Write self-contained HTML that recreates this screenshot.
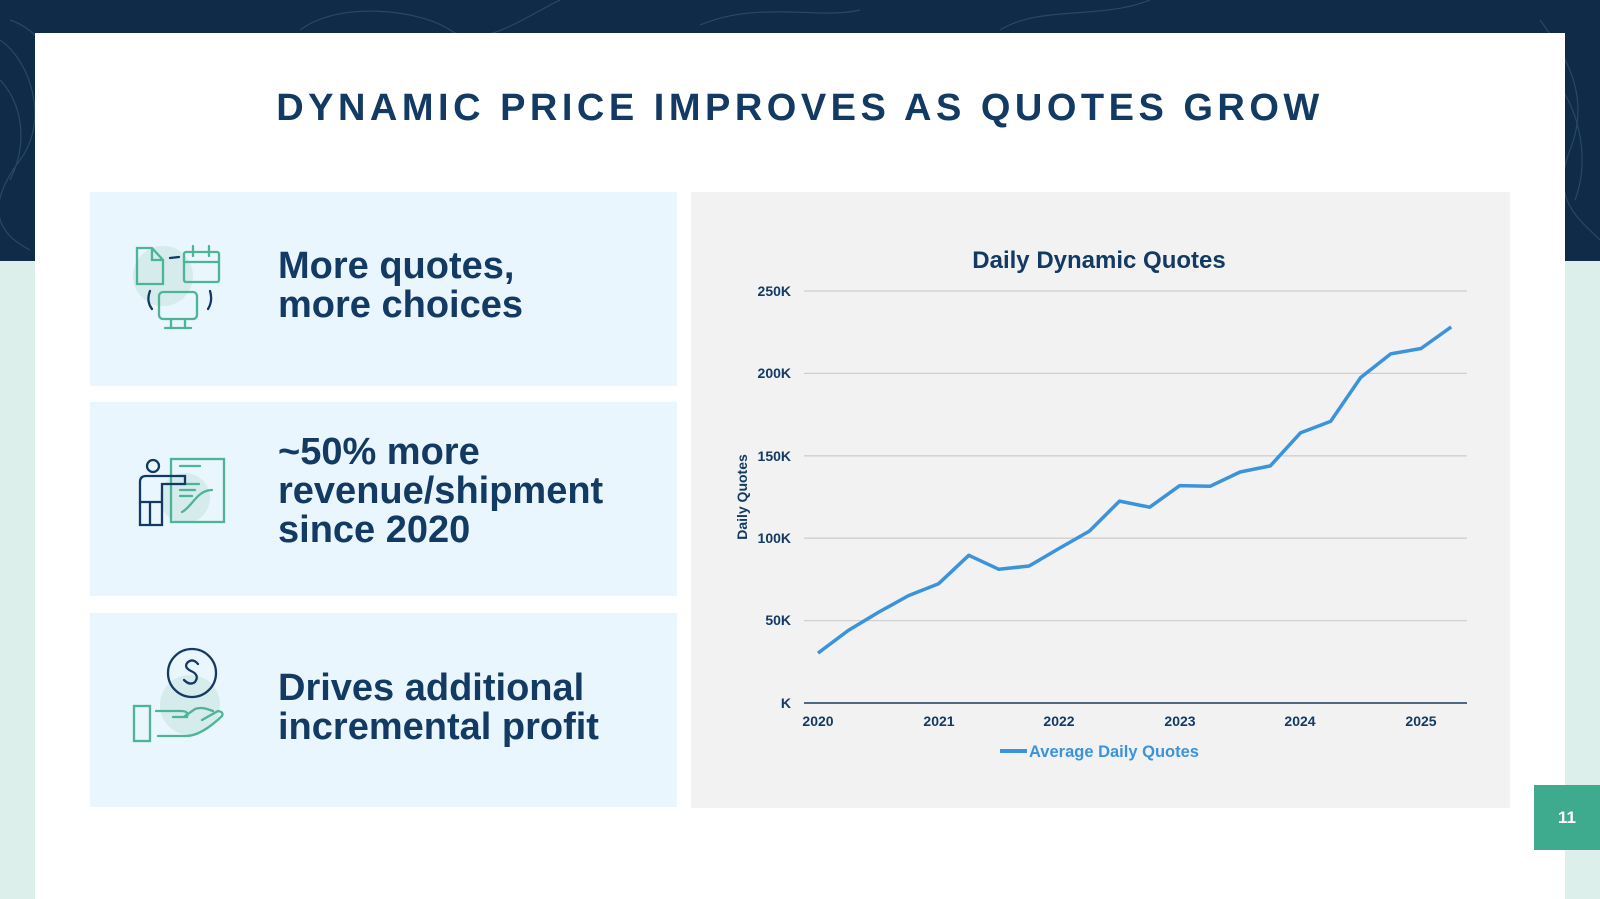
<!DOCTYPE html>
<html><head><meta charset="utf-8"><style>
body{margin:0;width:1600px;height:899px;overflow:hidden;font-family:"Liberation Sans",sans-serif;background:#dcefea}
.top{position:absolute;left:0;top:0;width:1600px;height:261px;background:#0f2b48}
.card{position:absolute;left:35px;top:33px;width:1530px;height:866px;background:#fff}
.title{position:absolute;left:0;width:1600px;top:87px;text-align:center;font-size:38px;font-weight:bold;letter-spacing:4.5px;color:#133a63}
.box{position:absolute;left:90px;width:587px;height:194px;background:#eaf6fd}
.txt{position:absolute;left:278px;font-size:38px;font-weight:bold;color:#133a63;line-height:39px}
.pg{position:absolute;left:1534px;top:785px;width:66px;height:65px;background:#3eab8e;color:#fff;font-weight:bold;font-size:17px;text-align:center;line-height:65px}
</style></head><body>
<div class="top">
<svg width="1600" height="261" style="position:absolute;left:0;top:0" fill="none" stroke="#2a4766" stroke-width="1.2">
<path d="M0 40 C30 60 50 120 20 160 S-10 230 30 250"/><path d="M0 80 C20 100 30 140 10 180"/><path d="M10 20 C40 30 60 60 40 90"/>
<path d="M300 30 C340 0 420 10 450 30 S520 20 560 0"/><path d="M700 25 C760 0 820 20 860 10"/><path d="M1000 30 C1040 5 1100 20 1150 0"/>
<path d="M1540 20 C1570 60 1590 100 1570 150 S1580 220 1600 240"/><path d="M1555 80 C1580 110 1590 160 1575 200"/>
</svg></div>
<div class="card"></div>
<div class="title">DYNAMIC PRICE IMPROVES AS QUOTES GROW</div>

<div class="box" style="top:192px"></div>
<div class="box" style="top:402px"></div>
<div class="box" style="top:613px"></div>

<svg width="700" height="899" style="position:absolute;left:0;top:0" fill="none" stroke-width="2.3" stroke-linecap="round">
<circle cx="163" cy="276" r="30" fill="#d5ebec" stroke="none"/>
<path d="M137 248 h15 l11 12 v24 h-26z M152 248 v12 h11" stroke="#4db497"/>
<path d="M170 258 l9 -1" stroke="#133a63"/>
<rect x="184" y="252" width="35" height="30" rx="2" stroke="#4db497"/><path d="M184 262 h35 M193 246 v10 M209 246 v10" stroke="#4db497"/>
<rect x="159" y="292" width="38" height="27" rx="4" stroke="#4db497"/><path d="M171 320 v7 M185 320 v7 M165 328 h26" stroke="#4db497"/>
<path d="M150 291 q-4 10 2 18 M210 291 q3 10 -2 18" stroke="#133a63"/>

<circle cx="185" cy="498" r="25" fill="#d5ebec" stroke="none"/>
<rect x="171" y="459" width="53" height="63" stroke="#4db497"/>
<path d="M180 466 h20 M180 484 h19 M180 490 h15 M180 496 h12 M182 512 c10 -5 15 -22 30 -22" stroke="#4db497"/>
<circle cx="153" cy="466" r="6" stroke="#133a63"/>
<path d="M140 525 v-43 q0 -6 6 -6 h39 v8 h-23 v41 h-16 z M150 502 v23 M141 502 h21" stroke="#133a63"/>

<circle cx="190" cy="705" r="30" fill="#d5ebec" stroke="none"/>
<circle cx="192" cy="673" r="24" stroke="#133a63"/>
<path d="M198 664 q-5 -6 -10 -2 q-5 5 3 9 q9 4 4 11 q-5 4 -11 -2" stroke="#133a63"/>
<rect x="134" y="706" width="16" height="35" stroke="#4db497"/>
<path d="M156 711 h25 q8 0 6 6 h-14 M158 736 h28 q15 0 36 -20 q2 -4 -4 -5 l-16 9 M185 716 l10 -7 q6 -2 12 0 l6 2" stroke="#4db497"/>
</svg>

<div class="txt" style="top:247px">More quotes,<br>more choices</div>
<div class="txt" style="top:433px">~50% more<br>revenue/shipment<br>since 2020</div>
<div class="txt" style="top:669px">Drives additional<br>incremental profit</div>

<svg width="819" height="616" style="position:absolute;left:691px;top:192px" font-family="Liberation Sans, sans-serif" font-weight="bold">
<rect width="819" height="616" fill="#f2f2f2"/>
<g transform="translate(-691,-192)">
<text x="1099" y="268" text-anchor="middle" font-size="24" fill="#133a63">Daily Dynamic Quotes</text>
<g stroke="#cfcfcf" stroke-width="1.3">
<line x1="804" x2="1467" y1="291" y2="291"/><line x1="804" x2="1467" y1="373.4" y2="373.4"/><line x1="804" x2="1467" y1="455.8" y2="455.8"/><line x1="804" x2="1467" y1="538.2" y2="538.2"/><line x1="804" x2="1467" y1="620.6" y2="620.6"/>
</g>
<line x1="804" x2="1467" y1="703" y2="703" stroke="#1b3a5c" stroke-width="1.5"/>
<g font-size="14" fill="#133a63" text-anchor="end">
<text x="791" y="296">250K</text><text x="791" y="378">200K</text><text x="791" y="461">150K</text><text x="791" y="543">100K</text><text x="791" y="625">50K</text><text x="791" y="708">K</text>
</g>
<g font-size="14" fill="#133a63" text-anchor="middle">
<text x="818" y="726">2020</text><text x="939" y="726">2021</text><text x="1059" y="726">2022</text><text x="1180" y="726">2023</text><text x="1300" y="726">2024</text><text x="1421" y="726">2025</text>
</g>
<text transform="translate(747,497) rotate(-90)" text-anchor="middle" font-size="14" fill="#133a63">Daily Quotes</text>
<polyline fill="none" stroke="#3b93dc" stroke-width="3.5" stroke-linejoin="round" points="818,653.1 848.2,630.5 878.3,612.4 908.5,595.6 938.6,583.7 968.8,555.3 998.9,569.3 1029.1,566 1059.2,548.4 1089.4,531.1 1119.5,501.1 1149.7,507.2 1179.8,485.6 1210,486.3 1240.1,472 1270.3,465.9 1300.4,432.9 1330.6,421.4 1360.7,377.5 1390.9,353.8 1421,348.5 1451.2,326.9"/>
<line x1="1000" x2="1027" y1="751" y2="751" stroke="#3b93dc" stroke-width="4"/>
<text x="1029" y="757" font-size="16.5" fill="#3b93dc">Average Daily Quotes</text>
</g>
</svg>
<div class="pg">11</div>
</body></html>
